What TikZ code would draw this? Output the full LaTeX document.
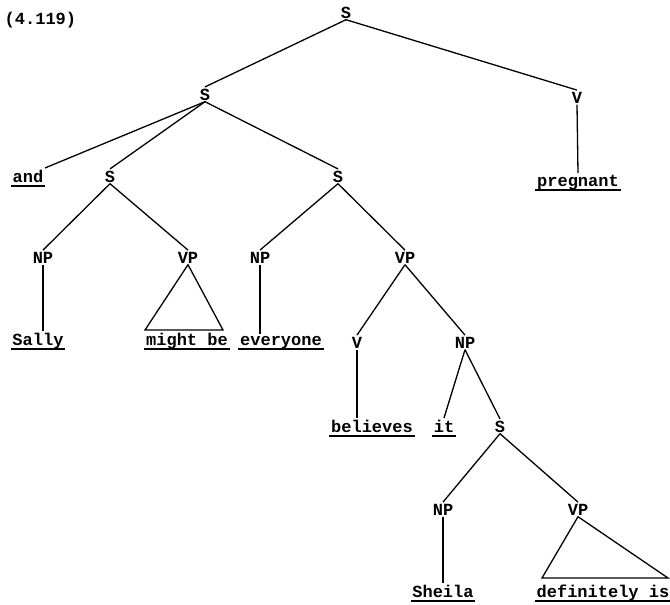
\documentclass[tikz,border=0pt]{standalone}
\usepackage{fontspec}
\setmonofont{Liberation Mono}
\begin{document}
\begin{tikzpicture}[x=1pt,y=-1pt,
  lbl/.style={font=\ttfamily\bfseries\fontsize{17}{20}\selectfont, inner sep=1.5pt, anchor=base, text depth=0pt},
  term/.style={font=\ttfamily\bfseries\fontsize{17}{20}\selectfont, inner sep=1.5pt, anchor=base},
  edge/.style={line width=1.3pt},
  ul/.style={line width=1.4pt}]
\useasboundingbox (0,0) rectangle (670,605);
\node[lbl, anchor=base west] (num) at (3,24) {(4.119)};
\node[lbl] (s0) at (346,18) {S};
\node[lbl] (s1) at (205,100) {S};
\node[lbl] (v1) at (577,103) {V};
\node[term] (and) at (28,182) {and};
\node[lbl] (s2) at (110,182) {S};
\node[lbl] (s3) at (338,182) {S};
\node[term] (preg) at (578,186) {pregnant};
\node[lbl] (np1) at (43,263) {NP};
\node[lbl] (vp1) at (188,263) {VP};
\node[lbl] (np2) at (260,263) {NP};
\node[lbl] (vp2) at (405,263) {VP};
\node[term] (sally) at (38,345) {Sally};
\node[term] (mightbe) at (187,345) {might be};
\node[term] (everyone) at (281,345) {everyone};
\node[lbl] (v2) at (357,348) {V};
\node[lbl] (np3) at (465,348) {NP};
\node[term] (believes) at (372,432) {believes};
\node[term] (it) at (444,432) {it};
\node[lbl] (s4) at (500,432) {S};
\node[lbl] (np4) at (443,515) {NP};
\node[lbl] (vp3) at (578,515) {VP};
\node[term] (sheila) at (443,597) {Sheila};
\node[term] (defis) at (603,597) {definitely is};
% underlines
\foreach \w in {and,preg,sally,mightbe,everyone,believes,it,sheila,defis}
  \draw[ul] ([yshift=-4pt]\w.base west) -- ([yshift=-4pt]\w.base east);
% edges
\draw[edge] (s0.south) -- (s1.north);
\draw[edge] (s0.south) -- (v1.north);
\draw[edge] (v1.south) -- (preg.north);
\draw[edge] (s1.south) -- (and.north east);
\draw[edge] (s1.south) -- (s2.north);
\draw[edge] (s1.south) -- (s3.north);
\draw[edge] (s2.south) -- (np1.north);
\draw[edge] (s2.south) -- (vp1.north);
\draw[edge] (np1.south) -- (np1.south |- sally.north);
\coordinate (t1l) at (145,330);
\coordinate (t1r) at (223,330);
\draw[edge] (vp1.south) -- (t1l) -- (t1r) -- cycle;
\draw[edge] (s3.south) -- (np2.north);
\draw[edge] (s3.south) -- (vp2.north);
\draw[edge] (np2.south) -- (everyone.north -| np2.south);
\draw[edge] (vp2.south) -- (v2.north);
\draw[edge] (vp2.south) -- (np3.north);
\draw[edge] (v2.south) -- (believes.north -| v2.south);
\draw[edge] (np3.south) -- (it.north);
\draw[edge] (np3.south) -- (s4.north);
\draw[edge] (s4.south) -- (np4.north);
\draw[edge] (s4.south) -- (vp3.north);
\draw[edge] (np4.south) -- (sheila.north);
\coordinate (t2l) at (542,578);
\coordinate (t2r) at (668,578);
\draw[edge] (vp3.south) -- (t2l) -- (t2r) -- cycle;
\end{tikzpicture}
\end{document}
